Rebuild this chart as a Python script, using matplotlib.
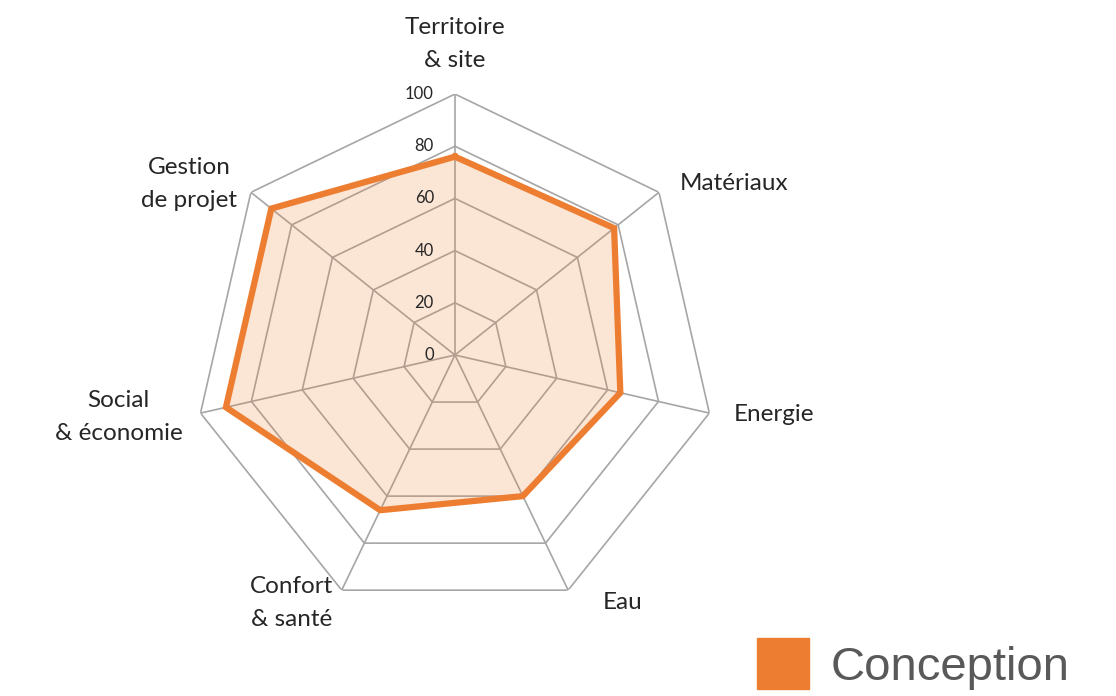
import numpy as np
import matplotlib.pyplot as plt
import matplotlib.patches as mpatches

categories = ['Territoire\n& site', 'Matériaux', 'Energie', 'Eau',
              'Confort\n& santé', 'Social\n& économie', 'Gestion\nde projet']
conception = [76, 78, 65, 60, 66, 90, 90]
ticks = [0, 20, 40, 60, 80, 100]
series_name = 'Conception'

orange = '#ED7D31'
grid_col = '#A6A6A6'


def main():
    fig = plt.figure(figsize=(11.16, 6.96), dpi=100)
    ax = fig.add_axes([0.1738, 0.1149, 0.4677, 0.75], projection='polar')
    ax.set_theta_zero_location('N')
    ax.set_theta_direction(-1)
    ax.set_ylim(0, 100)
    ax.axis('off')

    n = len(categories)
    theta = np.linspace(0, 2 * np.pi, n, endpoint=False)
    closed = np.append(theta, theta[0])

    # polygon grid + spokes
    for t in ticks[1:]:
        ax.plot(closed, [t] * (n + 1), color=grid_col, lw=1.2, zorder=1)
    for th in theta:
        ax.plot([th, th], [0, 100], color=grid_col, lw=1.2, zorder=1)

    vals = np.append(conception, conception[0])
    ax.fill(closed, vals, color=orange, alpha=0.2, lw=0, zorder=2)
    ax.plot(closed, vals, color=orange, lw=4.5, zorder=3, solid_joinstyle='miter')

    for t in ticks:
        ax.annotate(str(t), xy=(0, t), xytext=(-21, 0), textcoords='offset pixels',
                    ha='right', va='center', fontsize=12, color='#262626',
                    family='Lato', annotation_clip=False)

    # label offsets from the outer vertex, in pixels
    offsets = [(0, 50, 'center'), (21, 9, 'left'), (24, -1, 'left'),
               (54, -12, 'center'), (-50, -13, 'center'), (-82, -4, 'center'),
               (-62, 8, 'center')]
    for th, lab, (dx, dy, ha) in zip(theta, categories, offsets):
        ax.annotate(lab, xy=(th, 100), xytext=(dx, dy), textcoords='offset pixels',
                    ha=ha, va='center', fontsize=17.5, color='#262626',
                    family='Lato', linespacing=1.7, annotation_clip=False)

    handle = mpatches.Patch(color=orange, label=series_name)
    fig.legend(handles=[handle], loc='upper left',
               bbox_to_anchor=(757 / 1116, 1 - 638 / 696), frameon=False,
               prop={'family': 'Liberation Sans', 'size': 34},
               labelcolor='#595959', handlelength=1.1, handleheight=1.3,
               handletextpad=0.45, borderpad=0, borderaxespad=0)

    fig.savefig('out.png', dpi=100)


if __name__ == '__main__':
    main()
